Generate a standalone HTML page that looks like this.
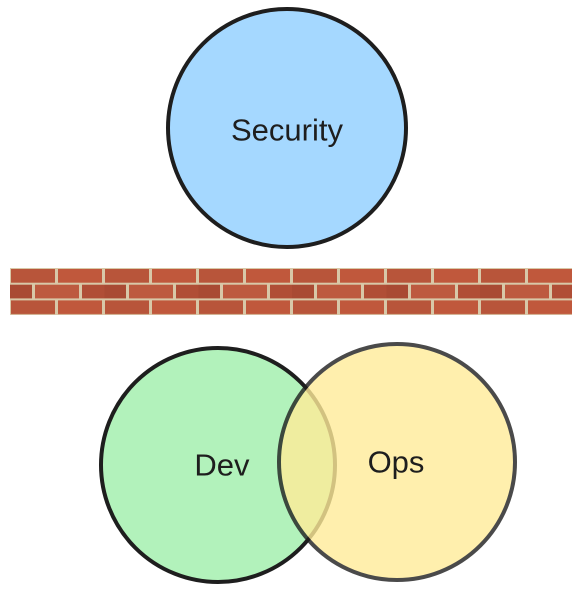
<!DOCTYPE html>
<html><head><style>
html,body{margin:0;padding:0;background:#fff;width:582px;height:597px;overflow:hidden}
svg{display:block}
text{font-family:"Liberation Sans",sans-serif;font-size:31px;fill:#1e1e1e;text-anchor:middle;dominant-baseline:central}
</style></head><body>
<svg width="582" height="597" viewBox="0 0 582 597">
<defs>
<pattern id="brick" x="10" y="268" width="94" height="31.4" patternUnits="userSpaceOnUse">
<rect width="94" height="31.4" fill="#d8c8a8"/>
<rect x="1" y="1" width="44" height="13.7" fill="#b8553a"/>
<rect x="48" y="1" width="44" height="13.7" fill="#c0583c"/>
<rect x="-22" y="16.7" width="44" height="13.7" fill="#a94a33"/>
<rect x="25" y="16.7" width="44" height="13.7" fill="#bd5a3f"/>
<rect x="72" y="16.7" width="44" height="13.7" fill="#b04e36"/>
</pattern>
</defs>
<circle cx="287" cy="128" r="119" fill="#a5d8ff" stroke="#1e1e1e" stroke-width="4"/>
<text x="287" y="130">Security</text>
<rect x="10" y="268" width="562" height="47" fill="url(#brick)"/>
<circle cx="218" cy="465" r="117" fill="#b2f2bb" stroke="#1e1e1e" stroke-width="4"/>
<text x="222" y="465">Dev</text>
<g opacity="0.8">
<circle cx="397" cy="462" r="118" fill="#ffec99" stroke="#1e1e1e" stroke-width="4"/>
</g>
<text x="396" y="462">Ops</text>
</svg>
</body></html>
